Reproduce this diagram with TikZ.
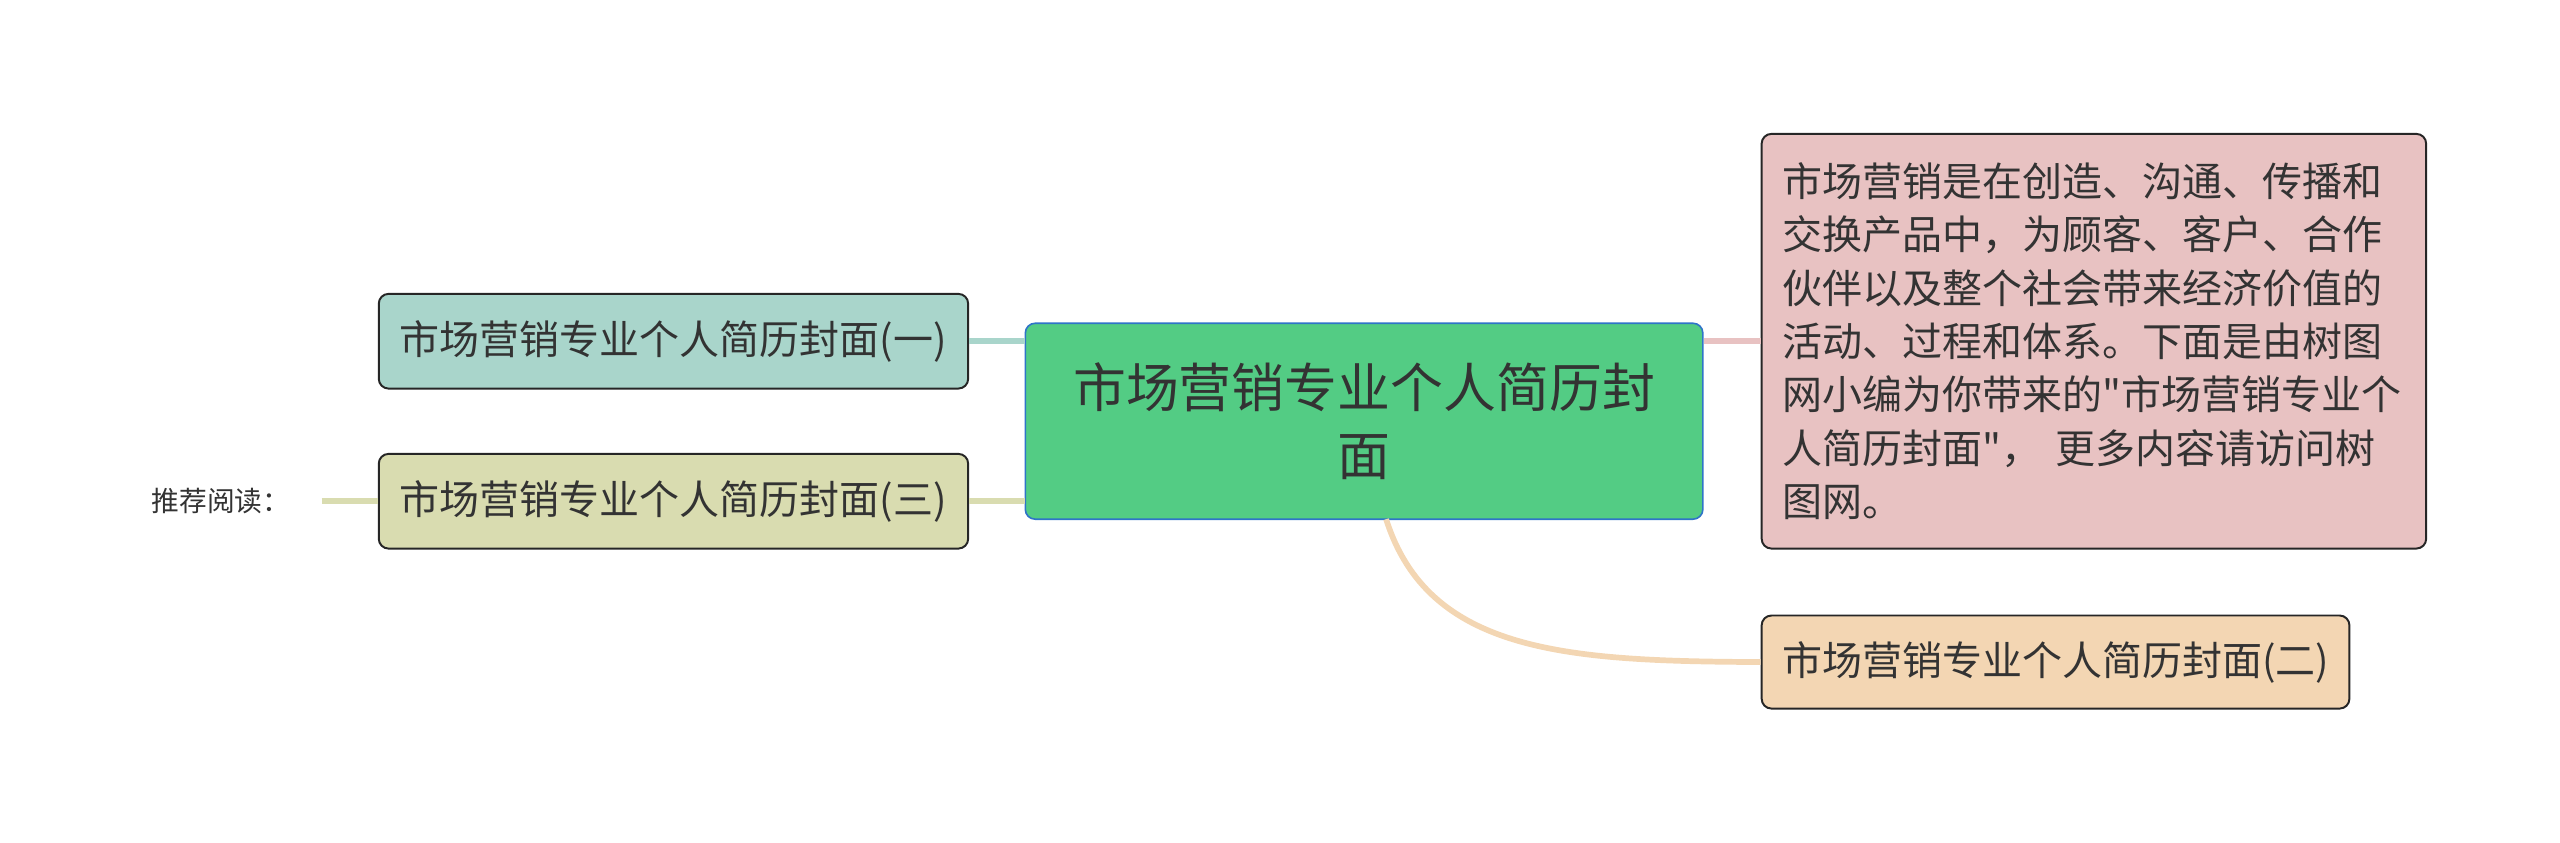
\documentclass[tikz,border=0pt]{standalone}
\usepackage{fontspec}
\setmainfont{Noto Sans CJK SC}[Ligatures=TeXOff]
\usetikzlibrary{calc}
\definecolor{ink}{HTML}{333333}
\definecolor{rootgreen}{HTML}{53CC84}
\definecolor{rootblue}{HTML}{2F74C8}
\definecolor{tealleaf}{HTML}{A9D5CB}
\definecolor{oliveleaf}{HTML}{D9DCB0}
\definecolor{pinkleaf}{HTML}{E8C2C2}
\definecolor{orangeleaf}{HTML}{F3D6B3}

\begin{document}
\begin{tikzpicture}[x=1pt,y=-1pt,
 leaf/.style={draw=black!85,line width=1.2pt,rounded corners=6pt,text=ink,
  font=\fontsize{24.5}{32.7}\selectfont,inner sep=0pt},
 link/.style={line width=3.5pt}]
 \useasboundingbox (0,0) rectangle (1568,516);
 % centre
 \node[draw=rootblue,fill=rootgreen,line width=1pt,rounded corners=6pt,text=ink,
  minimum width=415pt,minimum height=120pt,align=center,
  font=\fontsize{32.4}{42}\selectfont] (root) at (835.5,258)
  {市场营销专业个人简历封\\面};
 % left side
 \node[leaf,fill=tealleaf,minimum width=361pt,minimum height=58pt] (one) at (412.5,209)
  {市场营销专业个人简历封面(一)};
 \node[leaf,fill=oliveleaf,minimum width=361pt,minimum height=58pt] (three) at (412.5,307)
  {市场营销专业个人简历封面(三)};
 \node[text=ink,font=\fontsize{17}{20}\selectfont,anchor=east,inner sep=0pt] (more) at (178,307)
  {推荐阅读：};
 % right side
 \node[leaf,fill=pinkleaf,text width=381pt,inner xsep=13pt,minimum height=254pt,align=left]
  (about) at (1282.5,209)
  {市场营销是在创造、沟通、传播和\\交换产品中，为顾客、客户、合作\\伙伴以及整个社会带来经济价值的\\活动、过程和体系。下面是由树图\\网小编为你带来的"市场营销专业个\\人简历封面"， 更多内容请访问树\\图网。};
 \node[leaf,fill=orangeleaf,minimum width=360pt,minimum height=57pt] (two) at (1259,405.5)
  {市场营销专业个人简历封面(二)};
 % links
 \draw[link,tealleaf](one.east)--(one.east-|root.west);
 \draw[link,oliveleaf](three.east)--(three.east-|root.west);
 \draw[link,oliveleaf]([xshift=19pt]more.east)--(three.west);
 \draw[link,pinkleaf](about.west-|root.east)--(about.west);
 \coordinate (foot) at (849,318);
 \draw[link,orangeleaf](foot)..controls(875,400)and(960,405)..(two.west);
\end{tikzpicture}
\end{document}
